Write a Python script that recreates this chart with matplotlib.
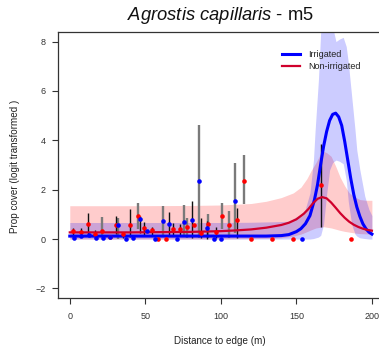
#script to redraw the Agrostis capillaris m5 edge-distance plot

import matplotlib
matplotlib.use("Agg")
import matplotlib.pyplot as plt

plt.rcParams['font.family'] = ['Liberation Sans', 'DejaVu Sans']
plt.rcParams['mathtext.fontset'] = 'custom'
plt.rcParams['mathtext.it'] = 'Liberation Sans:italic'
plt.rcParams['mathtext.rm'] = 'Liberation Sans'

# observed points
irr_x = [2.5, 7.6, 12.4, 17.1, 21.9, 26.8, 32.0, 36.9, 41.7, 46.3, 51.3, 56.2,
         61.4, 66.0, 71.2, 75.6, 80.6, 85.6, 90.7, 95.3, 100.4, 109.5, 153.6]
irr_y = [0.06, 0.13, 0.15, 0.06, 0.03, 0.08, 0.58, 0.02, 0.03, 0.81, 0.31, 0.01,
         0.74, 0.62, 0.02, 0.70, 0.77, 2.34, 0.44, 0.0, 0.0, 1.53, 0.0]
non_x = [2.1, 7.4, 12.3, 16.7, 21.2, 26.3, 30.5, 35.3, 39.9, 44.9, 49.4, 54.2,
         58.7, 63.8, 68.2, 72.7, 77.8, 82.2, 87.0, 91.6, 96.5, 101.0, 105.6,
         110.5, 115.3, 119.8, 133.7, 147.7, 166.3, 186.0]
non_y = [0.31, 0.27, 0.62, 0.20, 0.31, 0.10, 0.55, 0.20, 0.58, 0.92, 0.46, 0.35,
         0.0, 0.0, 0.40, 0.40, 0.50, 0.58, 0.24, 0.60, 0.28, 0.93, 0.56,
         0.77, 2.37, 0.0, 0.0, 0.0, 2.18, 0.0]

# error bars (two drawing layers in the original)
grey_bar_x = [21.2, 32.0, 44.9, 61.4, 75.6, 77.8, 85.6, 91.6, 101.0, 105.6, 109.5, 115.3]
grey_bar_lo = [0.10, 0.0, 0.42, 0.17, 0.10, 0.05, 0.04, 0.05, 0.42, 0.04, 0.24, 1.40]
grey_bar_hi = [0.90, 0.85, 1.46, 1.32, 1.39, 0.85, 4.63, 1.00, 1.47, 1.12, 3.08, 3.40]
dark_bar_x = [2.1, 7.4, 12.3, 16.7, 30.5, 35.3, 39.9, 46.3, 49.4, 54.2, 66.0, 68.2,
              72.7, 80.6, 87.0, 90.7, 96.5, 110.5, 166.3]
dark_bar_lo = [0.15, 0.10, 0.15, 0.05, 0.20, 0.05, 0.10, 0.25, 0.15, 0.15, 0.17, 0.15,
               0.15, 0.04, 0.04, 0.02, 0.05, 0.05, 0.50]
dark_bar_hi = [0.45, 0.45, 1.05, 0.35, 0.95, 0.30, 1.20, 0.94, 0.70, 0.50, 1.10, 0.65,
               0.60, 1.55, 0.85, 0.75, 0.50, 1.26, 3.85]

# fitted curves
irr_fit_x = [0, 20, 40, 60, 80, 100, 120, 130, 140, 145, 150, 153, 156, 159, 162, 164,
             166, 168, 170, 172, 174, 176, 178, 180, 182, 184, 186, 188, 190, 192,
             194, 196, 198, 200]
irr_fit_y = [0.12, 0.12, 0.12, 0.12, 0.12, 0.12, 0.12, 0.12, 0.14, 0.18, 0.30, 0.42,
             0.62, 0.95, 1.60, 2.20, 3.00, 3.75, 4.35, 4.80, 5.05, 5.10, 4.95, 4.60,
             3.95, 3.20, 2.45, 1.80, 1.30, 0.92, 0.62, 0.42, 0.28, 0.20]
non_fit_x = [0, 20, 40, 60, 80, 100, 110, 120, 130, 140, 145, 150, 155, 158, 161, 164,
             167, 170, 173, 176, 179, 182, 185, 188, 191, 194, 197, 200]
non_fit_y = [0.27, 0.27, 0.27, 0.28, 0.29, 0.32, 0.35, 0.39, 0.46, 0.57, 0.66, 0.80,
             1.03, 1.22, 1.45, 1.63, 1.70, 1.65, 1.48, 1.27, 1.05, 0.86, 0.70, 0.58,
             0.49, 0.42, 0.37, 0.34]

# confidence bands
non_band_x = [0, 40, 80, 100, 120, 130, 140, 148, 153, 157, 160, 163, 166, 168, 170,
              173, 176, 179, 182, 185, 188, 192, 196, 200]
non_band_hi = [1.35, 1.35, 1.36, 1.38, 1.44, 1.53, 1.68, 1.87, 2.10, 2.45, 2.80, 3.10,
               3.45, 3.55, 3.50, 3.35, 2.95, 2.50, 2.15, 1.87, 1.72, 1.60, 1.57, 1.57]
non_band_lo = [0.0, 0.0, 0.0, 0.0, 0.02, 0.03, 0.05, 0.12, 0.20, 0.30, 0.38, 0.45,
               0.48, 0.50, 0.48, 0.45, 0.40, 0.35, 0.31, 0.28, 0.25, 0.22, 0.21, 0.20]
irr_band_x = [0, 40, 80, 100, 120, 135, 145, 150, 153, 155.8, 159, 161.3, 162.4, 164.6,
              166.1, 168, 170, 172, 174, 176.2, 178.5, 181, 183, 184.4, 186.6, 188.8,
              190, 192, 195.3, 198, 200]
irr_band_hi = [0.67, 0.67, 0.67, 0.67, 0.68, 0.70, 0.72, 0.90, 1.00, 1.19, 1.87, 3.20,
               4.40, 6.46, 8.40, 9.50, 10.0, 9.80, 8.60, 8.00, 8.10, 8.17, 7.80, 7.14,
               5.79, 4.43, 3.60, 2.81, 1.73, 1.20, 0.95]
irr_band_lo = [0.0, 0.0, 0.0, 0.0, 0.0, 0.0, 0.0, 0.0, 0.0, 0.0, 0.0, 0.02, 0.04, 0.08,
               0.15, 0.60, 1.80, 2.80, 3.10, 3.20, 3.15, 3.05, 2.40, 1.50, 0.60, 0.20,
               0.12, 0.05, 0.02, 0.0, 0.0]

x_ticks = [0, 50, 100, 150, 200]
y_ticks = [-2, 0, 2, 4, 6, 8]

fig = plt.figure(figsize=(3.79, 3.56), dpi=100)
ax = fig.add_axes([0.1522, 0.1621, 0.861, 0.7489])

ax.fill_between(non_band_x, non_band_lo, non_band_hi, color='red', alpha=0.2, lw=0)
ax.fill_between(irr_band_x, irr_band_lo, irr_band_hi, color='blue', alpha=0.2, lw=0)

ax.vlines(grey_bar_x, grey_bar_lo, grey_bar_hi, color='#7a7a7a', lw=1.7)
ax.vlines(dark_bar_x, dark_bar_lo, dark_bar_hi, color='#111111', lw=1.0)

ax.plot(irr_fit_x, irr_fit_y, color='blue', lw=2.2, label='Irrigated')
ax.plot(non_fit_x, non_fit_y, color='#d0002c', lw=1.6, label='Non-irrigated')

ax.plot(non_x, non_y, 'o', color='red', ms=3.3, mew=0)
ax.plot(irr_x, irr_y, 'o', color='blue', ms=3.3, mew=0)

ax.set_xlim(-8, 208)
ax.set_ylim(-2.4, 8.4)
ax.set_xticks(x_ticks)
ax.set_yticks(y_ticks)
ax.tick_params(direction='out', length=4.3, width=0.8, colors='#333333',
               labelsize=6.5, pad=4.5)
ax.tick_params(axis='x', pad=5.5)
for s in ax.spines.values():
    s.set_color('#333333')
    s.set_linewidth(0.9)

leg = ax.legend(loc='upper left', bbox_to_anchor=(282 / 379, 1 - 50 / 356),
                bbox_transform=fig.transFigure, frameon=False, fontsize=6.5,
                borderaxespad=0, borderpad=0, handlelength=2.0,
                handletextpad=0.9, labelspacing=0.35)
for t in leg.get_texts():
    t.set_color('#222222')

fig.text(220.8 / 379, 1 - 19.5 / 356, r'$\it{Agrostis\ capillaris}$ - m5',
         ha='center', va='baseline', fontsize=13.2, color='#111111')
fig.text(219.8 / 379, 1 - 341 / 356, 'Distance to edge (m)', ha='center',
         va='center', fontsize=7.1, color='#222222')
fig.text(15 / 379, 1 - 166 / 356, 'Prop cover (logit transformed )', ha='center',
         va='center', rotation=90, fontsize=7.1, color='#222222')

fig.savefig('out.png', dpi=100)
